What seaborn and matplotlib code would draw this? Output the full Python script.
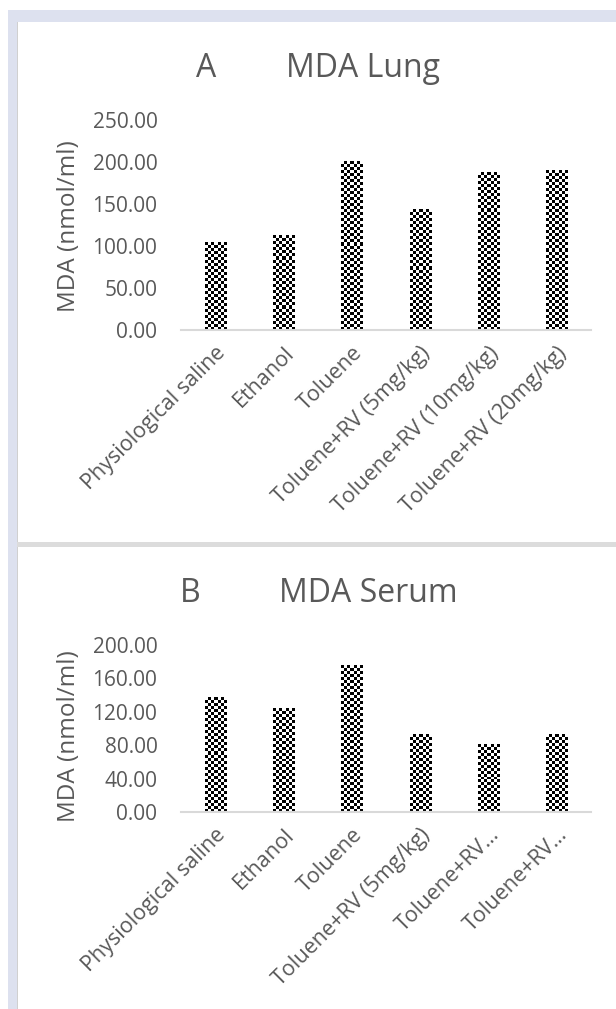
import numpy as np
import matplotlib
matplotlib.use('Agg')
import matplotlib.pyplot as plt
import seaborn as sns
from matplotlib.patches import Rectangle

# ---- data ----
groups = ["Physiological saline", "Ethanol", "Toluene",
          "Toluene+RV (5mg/kg)", "Toluene+RV (10mg/kg)", "Toluene+RV (20mg/kg)"]
labels_lung = ["Physiological saline", "Ethanol", "Toluene",
               "Toluene+RV (5mg/kg)", "Toluene+RV (10mg/kg)", "Toluene+RV (20mg/kg)"]
labels_serum = ["Physiological saline", "Ethanol", "Toluene",
                "Toluene+RV (5mg/kg)", "Toluene+RV\u2026", "Toluene+RV\u2026"]
lung_mda = [104, 112, 200, 143, 187, 190]
serum_mda = [137, 124, 176, 93, 81, 93]
lung_ticks = [0, 50, 100, 150, 200, 250]
serum_ticks = [0, 40, 80, 120, 160, 200]

sns.set_theme(style='white')
plt.rcParams['font.family'] = ['Open Sans', 'DejaVu Sans']

W, H = 616, 1009
TXT = '#595959'
fig = plt.figure(figsize=(W / 100, H / 100), dpi=100)
fig.patch.set_facecolor('white')


def rect(x0, y0, x1, y1, color):
    fig.patches.append(Rectangle((x0 / W, 1 - y1 / H), (x1 - x0) / W, (y1 - y0) / H,
                                 transform=fig.transFigure, facecolor=color,
                                 edgecolor='none', zorder=0))


lav = '#dde1ef'
rect(8, 10, 616, 22, lav)
rect(8, 10, 17, 1009, lav)
rect(17, 22, 18, 1009, '#d0d0d0')
rect(17, 542, 616, 547, '#dcdcdc')


def checker_bars(ax):
    fig.canvas.draw()
    for p in ax.patches:
        x0 = p.get_x()
        x1 = x0 + p.get_width()
        h = p.get_height()
        (px0, py0), (px1, py1) = ax.transData.transform([(x0, 0), (x1, h)])
        nx = max(1, int(round(abs(px1 - px0) / 3)))
        ny = max(1, int(round(abs(py1 - py0) / 3)))
        arr = np.indices((ny, nx)).sum(0) % 2
        ax.imshow(arr, cmap='gray', vmin=0, vmax=1, extent=(x0, x1, 0, h),
                  origin='lower', aspect='auto', interpolation='nearest', zorder=3)


def panel(rect_px, values, ticks, xlabels, title_letter, title_text, letter_x, text_x, title_y, ylab_y):
    x0, y0, x1, y1 = rect_px
    ax = fig.add_axes([x0 / W, 1 - y1 / H, (x1 - x0) / W, (y1 - y0) / H])
    ax.set_facecolor('none')
    sns.barplot(x=groups, y=values, ax=ax, width=0.31, color='white',
                edgecolor='none', linewidth=0, saturation=1)
    ax.set_ylim(ticks[0], ticks[-1])
    ax.set_xlim(-0.5, len(groups) - 0.5)
    checker_bars(ax)
    ax.set_ylim(ticks[0], ticks[-1])
    ax.set_xlim(-0.5, len(groups) - 0.5)
    for s in ['left', 'top', 'right']:
        ax.spines[s].set_visible(False)
    ax.spines['bottom'].set_color('#d9d9d9')
    ax.spines['bottom'].set_linewidth(1.5)
    ax.spines['bottom'].set_zorder(4)
    ax.set_yticks(ticks)
    ax.set_yticklabels([f"{t:.2f}" for t in ticks])
    ax.set_xticks(range(len(groups)))
    ax.set_xticklabels(xlabels, rotation=45, ha='right', rotation_mode='anchor')
    ax.tick_params(axis='y', length=0, labelsize=15, labelcolor=TXT, pad=17)
    ax.tick_params(axis='x', length=0, labelsize=15.5, labelcolor=TXT, pad=9)
    ax.set_xlabel('')
    ax.set_ylabel('MDA (nmol/ml)', fontsize=17.5, color=TXT)
    ax.yaxis.set_label_coords((81 - x0) / (x1 - x0), (y1 - ylab_y) / (y1 - y0))
    fig.text(letter_x / W, 1 - title_y / H, title_letter, ha='center', va='baseline',
             fontsize=23, color=TXT)
    fig.text(text_x / W, 1 - title_y / H, title_text, ha='center', va='baseline',
             fontsize=23, color=TXT)
    return ax


panel((181, 120, 591, 330), lung_mda, lung_ticks, labels_lung, 'A', 'MDA Lung', 206, 363, 77, 226)
panel((181, 645, 591, 812), serum_mda, serum_ticks, labels_serum, 'B', 'MDA Serum', 190, 368, 602, 736)

fig.savefig('out.png', dpi=100, facecolor='white')
